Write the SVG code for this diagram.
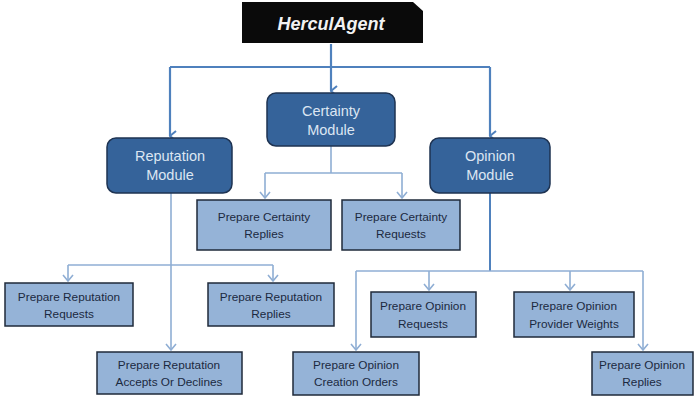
<svg xmlns="http://www.w3.org/2000/svg" width="695" height="399" viewBox="0 0 695 399">
<style>
.mod{fill:#35639A;stroke:#1E3352;stroke-width:1.5}
.box{fill:#95B3D7;stroke:#1F2A3A;stroke-width:1.5}
.mt{font-family:"Liberation Sans",Arial,sans-serif;font-size:14.5px;fill:#DCE6F2;text-anchor:middle}
.bt{font-family:"Liberation Sans",Arial,sans-serif;font-size:11.8px;fill:#1B2940;text-anchor:middle}
.main{fill:none;stroke:#4F81BD;stroke-width:2.2}
.br{fill:none;stroke:#8FAED4;stroke-width:1.6}
</style>
<defs>
<marker id="am" viewBox="0 0 12 8" refX="6" refY="7" markerWidth="12" markerHeight="8" markerUnits="userSpaceOnUse" orient="auto-start-reverse">
<path d="M1,1 L6,7 L11,1" fill="none" stroke="#4F81BD" stroke-width="2"/>
</marker>
<marker id="ab" viewBox="0 0 12 8" refX="6" refY="7" markerWidth="12" markerHeight="8" markerUnits="userSpaceOnUse">
<path d="M1,1 L6,7 L11,1" fill="none" stroke="#8FAED4" stroke-width="1.6"/>
</marker>
</defs>
<g id="connectors">
<path class="main" d="M331,44 V91" marker-end="url(#am)"/>
<path class="main" d="M170,67 H490"/>
<path class="main" d="M170,67 V136" marker-end="url(#am)"/>
<path class="main" d="M490,67 V136" marker-end="url(#am)"/>
<path class="br" d="M331,146 V173 M265,173 H402"/>
<path class="br" d="M265,173 V198" marker-end="url(#ab)"/>
<path class="br" d="M402,173 V198" marker-end="url(#ab)"/>
<path class="br" d="M171,193 V350" marker-end="url(#ab)"/>
<path class="br" d="M68,265 H273"/>
<path class="br" d="M68,265 V281" marker-end="url(#ab)"/>
<path class="br" d="M273,265 V281" marker-end="url(#ab)"/>
<path class="main" d="M490,193 V271" style="stroke-width:2"/>
<path class="br" d="M356,271 H643"/>
<path class="br" d="M356,271 V350" marker-end="url(#ab)"/>
<path class="br" d="M643,271 V350" marker-end="url(#ab)"/>
<path class="br" d="M429,271 V290" marker-end="url(#ab)"/>
<path class="br" d="M570,271 V290" marker-end="url(#ab)"/>
</g>
<g id="hercul">
<path d="M242,2 H413 L423,11 V43 H242 Z" fill="#0A0A0A"/>
<text x="331" y="30" font-family="Liberation Sans,Arial,sans-serif" font-size="18" font-weight="bold" font-style="italic" fill="#F2F2F2" text-anchor="middle">HerculAgent</text>
</g>
<g id="certainty">
<rect class="mod" x="267" y="93" width="128" height="53" rx="9"/>
<text class="mt" x="331" y="116">Certainty</text>
<text class="mt" x="331" y="135">Module</text>
</g>
<g id="reputation">
<rect class="mod" x="107" y="138" width="125" height="55" rx="9"/>
<text class="mt" x="170" y="161">Reputation</text>
<text class="mt" x="170" y="180">Module</text>
</g>
<g id="opinion">
<rect class="mod" x="430" y="138" width="120" height="55" rx="9"/>
<text class="mt" x="490" y="161">Opinion</text>
<text class="mt" x="490" y="180">Module</text>
</g>
<g id="cert-replies">
<rect class="box" x="197" y="200" width="134" height="50"/>
<text class="bt" x="264" y="221">Prepare Certainty</text>
<text class="bt" x="264" y="238">Replies</text>
</g>
<g id="cert-requests">
<rect class="box" x="342" y="200" width="118" height="50"/>
<text class="bt" x="401" y="221">Prepare Certainty</text>
<text class="bt" x="401" y="238">Requests</text>
</g>
<g id="rep-requests">
<rect class="box" x="5" y="283" width="128" height="43"/>
<text class="bt" x="69" y="301">Prepare Reputation</text>
<text class="bt" x="69" y="318">Requests</text>
</g>
<g id="rep-replies">
<rect class="box" x="208" y="283" width="126" height="43"/>
<text class="bt" x="271" y="301">Prepare Reputation</text>
<text class="bt" x="271" y="318">Replies</text>
</g>
<g id="rep-accepts">
<rect class="box" x="97" y="352" width="145" height="42"/>
<text class="bt" x="169" y="369">Prepare Reputation</text>
<text class="bt" x="169" y="386">Accepts Or Declines</text>
</g>
<g id="op-requests">
<rect class="box" x="371" y="292" width="105" height="45"/>
<text class="bt" x="423" y="310">Prepare Opinion</text>
<text class="bt" x="423" y="328">Requests</text>
</g>
<g id="op-weights">
<rect class="box" x="514" y="292" width="120" height="45"/>
<text class="bt" x="574" y="310">Prepare Opinion</text>
<text class="bt" x="574" y="328">Provider Weights</text>
</g>
<g id="op-creation">
<rect class="box" x="293" y="352" width="126" height="43"/>
<text class="bt" x="356" y="369">Prepare Opinion</text>
<text class="bt" x="356" y="386">Creation Orders</text>
</g>
<g id="op-replies">
<rect class="box" x="592" y="352" width="101" height="43"/>
<text class="bt" x="642" y="369">Prepare Opinion</text>
<text class="bt" x="642" y="386">Replies</text>
</g>
</svg>
